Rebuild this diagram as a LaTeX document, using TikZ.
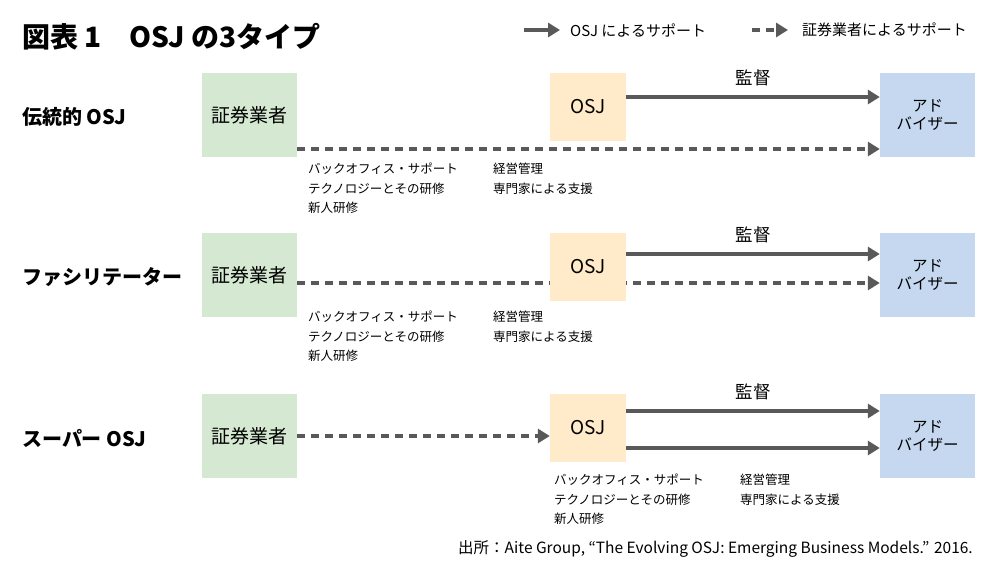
\documentclass[tikz,border=0pt]{standalone}
\usepackage{fontspec}
\setmainfont{Noto Sans CJK JP}
\usetikzlibrary{arrows.meta, positioning, backgrounds}
\definecolor{firmgreen}{HTML}{D5E8D1}
\definecolor{osjorange}{HTML}{FFEBC9}
\definecolor{advblue}{HTML}{C6D8EF}
\definecolor{arrgray}{HTML}{595959}

\begin{document}
\begin{tikzpicture}[x=1pt, y=-1pt,
    firm/.style={rectangle, fill=firmgreen, minimum width=95pt,
                 minimum height=84pt, inner sep=0pt, font=\fontsize{19}{22}\selectfont},
    osj/.style={rectangle, fill=osjorange, minimum width=76pt,
                minimum height=68pt, inner sep=0pt, font=\fontsize{19}{22}\selectfont},
    adv/.style={rectangle, fill=advblue, minimum width=95pt, minimum height=84pt,
                inner sep=0pt, align=center, font=\fontsize{15.5}{18}\selectfont},
    rowlbl/.style={anchor=west, inner sep=0pt, font=\fontsize{20}{23}\selectfont\bfseries},
    note/.style={anchor=north west, inner sep=0pt, align=left,
                 font=\fontsize{12.5}{19.5}\selectfont},
    lbl/.style={inner sep=0pt, text=black, font=\fontsize{17.5}{19}\selectfont},
    osjarr/.style={-{Triangle[length=12pt, width=14pt]}, line width=4pt, arrgray},
    firmarr/.style={osjarr, dash pattern=on 8pt off 6pt}
  ]
  \useasboundingbox (0,0) rectangle (996,578);

  % title and legend
  \node[anchor=west, inner sep=0pt, font=\fontsize{28}{30}\selectfont\bfseries]
    (title) at (22,37) {図表 1　OSJ の3タイプ};
  \coordinate (legA) at (524,30);
  \coordinate (legB) at (752,30);
  \node[anchor=west, inner sep=0pt, font=\fontsize{15}{17}\selectfont]
    (legtxtA) at (570,30) {OSJ によるサポート};
  \node[anchor=west, inner sep=0pt, font=\fontsize{15}{17}\selectfont]
    (legtxtB) at (802,30) {証券業者によるサポート};
  \draw[osjarr] (legA) -- ++(36,0);
  \draw[firmarr] (legB) -- ++(36,0);

  % traditional OSJ
  \node[rowlbl] (rowA) at (22,117) {伝統的 OSJ};
  \node[firm] (firmA) at (249.5,115) {証券業者};
  \node[osj] (osjA) at (588,107) {OSJ};
  \node[adv] (advA) at (927.5,115) {アド\\バイザー};
  \coordinate (supA) at ([yshift=10pt]osjA.east);
  \coordinate (dashA) at ([yshift=-34pt]firmA.east);
  \draw[osjarr] (supA) -- (supA -| advA.west)
    node[lbl, midway, above=9pt] {監督};
  \draw[firmarr] (dashA) -- (dashA -| advA.west);
  \node[note] (noteA1) at (308,163) {バックオフィス・サポート\\テクノロジーとその研修\\新人研修};
  \node[note] (noteA2) at (493,163) {経営管理\\専門家による支援};

  % facilitator
  \node[rowlbl] (rowB) at (22,277) {ファシリテーター};
  \node[firm] (firmB) at (249.5,275) {証券業者};
  \node[osj] (osjB) at (588,267) {OSJ};
  \node[adv] (advB) at (927.5,275) {アド\\バイザー};
  \coordinate (supB) at ([yshift=13pt]osjB.east);
  \coordinate (dashB) at ([yshift=-8pt]firmB.east);
  \draw[osjarr] (supB) -- (supB -| advB.west)
    node[lbl, midway, above=9pt] {監督};
  \begin{scope}[on background layer]
    \draw[firmarr] (dashB) -- (dashB -| advB.west);
  \end{scope}
  \node[note] (noteB1) at (308,311) {バックオフィス・サポート\\テクノロジーとその研修\\新人研修};
  \node[note] (noteB2) at (493,311) {経営管理\\専門家による支援};

  % super OSJ
  \node[rowlbl] (rowC) at (22,438) {スーパー OSJ};
  \node[firm] (firmC) at (249.5,436) {証券業者};
  \node[osj] (osjC) at (588,428) {OSJ};
  \node[adv] (advC) at (927.5,436) {アド\\バイザー};
  \coordinate (supC) at ([yshift=17pt]osjC.east);
  \coordinate (subC) at ([yshift=-20pt]osjC.east);
  \draw[osjarr] (supC) -- (supC -| advC.west)
    node[lbl, midway, above=9pt] {監督};
  \draw[osjarr] (subC) -- (subC -| advC.west);
  \draw[firmarr] (firmC.east) -- (firmC.east -| osjC.west);
  \node[note] (noteC1) at (554,474) {バックオフィス・サポート\\テクノロジーとその研修\\新人研修};
  \node[note] (noteC2) at (740,474) {経営管理\\専門家による支援};

  % source
  \node[anchor=east, inner sep=0pt, font=\fontsize{15.5}{17}\selectfont] (src) at (973,549)
    {出所：Aite Group, “The Evolving OSJ: Emerging Business Models.” 2016.};
\end{tikzpicture}
\end{document}
